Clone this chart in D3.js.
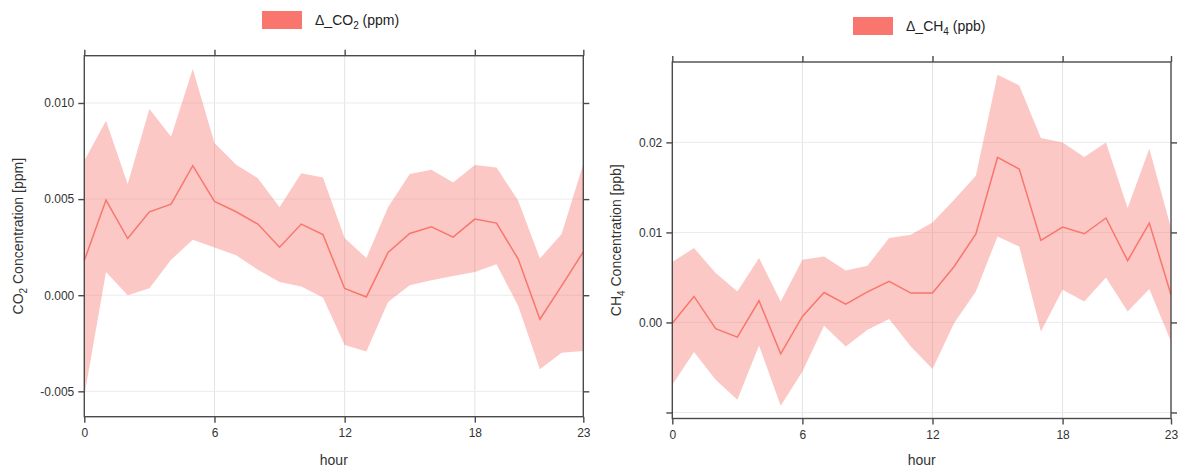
<!DOCTYPE html>
<html>
<head>
<meta charset="utf-8">
<script src="https://cdn.jsdelivr.net/npm/d3@7"></script>
<style>
  html, body { margin: 0; padding: 0; background: #fff; }
  svg { display: block; font-family: "Liberation Sans", Arial, sans-serif; }
</style>
</head>
<body>
<svg id="chart" width="1181" height="469"></svg>
<script>
// Hour of day, 0..23
const hours = d3.range(0, 24);

// CO2 difference (ppm): mean with lower / upper confidence bounds
const co2Mean  = [0.0018, 0.00495, 0.00295, 0.00434, 0.00474, 0.00674, 0.00488, 0.00434, 0.0037, 0.0025, 0.0037, 0.00316,
                  0.00035, -0.00009, 0.00222, 0.00321, 0.00356, 0.00302, 0.00396, 0.00375, 0.00188, -0.00125, 0.00049, 0.00226];
const co2Upper = [0.0070, 0.00908, 0.00578, 0.00969, 0.00825, 0.01177, 0.00792, 0.00679, 0.00609, 0.00457, 0.00634, 0.00613,
                  0.00297, 0.00193, 0.00457, 0.0063, 0.00653, 0.00587, 0.00677, 0.00665, 0.00491, 0.00191, 0.00318, 0.00682];
const co2Lower = [-0.00524, 0.00121, 0.0, 0.00036, 0.00184, 0.00288, 0.00248, 0.00208, 0.00132, 0.00069, 0.00045, -0.00012,
                  -0.00259, -0.00293, -0.00035, 0.00052, 0.00078, 0.001, 0.00121, 0.00161, -0.00056, -0.00385, -0.00299, -0.0029];

// CH4 difference (ppb): mean with lower / upper confidence bounds
const ch4Mean  = [-0.0001, 0.00289, -0.0007, -0.00163, 0.00241, -0.00348, 0.00067, 0.00333, 0.00204, 0.0034, 0.00456, 0.00326,
                  0.00326, 0.00622, 0.00982, 0.01833, 0.01704, 0.00911, 0.0106, 0.00985, 0.0116, 0.00686, 0.01104, 0.00307];
const ch4Upper = [0.00671, 0.00826, 0.00548, 0.00344, 0.00715, 0.00233, 0.00696, 0.00733, 0.00578, 0.0063, 0.00937, 0.00974,
                  0.01111, 0.01363, 0.0163, 0.02752, 0.02633, 0.02048, 0.02, 0.01837, 0.02, 0.01271, 0.0193, 0.01049];
const ch4Lower = [-0.00692, -0.00329, -0.00637, -0.00859, -0.00256, -0.00926, -0.00544, -0.00037, -0.00267, -0.00081, 0.00038, -0.00267,
                  -0.00518, -0.00007, 0.00344, 0.00956, 0.00844, -0.001, 0.00363, 0.00233, 0.005, 0.00122, 0.00371, -0.00211];

// Axis ticks
const hourTicks   = [0, 6, 12, 18, 23];
const co2Ticks    = [-0.005, 0, 0.005, 0.010];
const co2TickText = ["-0.005", "0.000", "0.005", "0.010"];
const ch4Ticks    = [-0.01, 0, 0.01, 0.02];
const ch4TickText = ["", "0.00", "0.01", "0.02"];

const seriesColor = "#f8766d";
const frameColor = "#4a4a4a";
const svg = d3.select("#chart");

function panel(cfg) {
  const x = d3.scaleLinear().domain([0, 23]).range([cfg.left, cfg.right]);
  const y = d3.scaleLinear().domain(cfg.yDomain).range([cfg.bottom, cfg.top]);
  const g = svg.append("g");

  // grid
  g.append("g").selectAll("line").data(hourTicks.filter(h => h > 0 && h < 23)).join("line")
    .attr("x1", d => x(d)).attr("x2", d => x(d))
    .attr("y1", cfg.top).attr("y2", cfg.bottom)
    .attr("stroke", "#e3e3e3").attr("stroke-width", 1);
  g.append("g").selectAll("line").data(cfg.yTicks).join("line")
    .attr("x1", cfg.left).attr("x2", cfg.right)
    .attr("y1", d => y(d)).attr("y2", d => y(d))
    .attr("stroke", "#ebebeb").attr("stroke-width", 1);

  const rows = hours.map((h, i) => ({ h, m: cfg.mean[i], lo: cfg.lower[i], hi: cfg.upper[i] }));

  // confidence ribbon
  g.append("path").datum(rows)
    .attr("d", d3.area().x(d => x(d.h)).y0(d => y(d.lo)).y1(d => y(d.hi)))
    .attr("fill", seriesColor).attr("fill-opacity", 0.4);

  // mean line
  g.append("path").datum(rows)
    .attr("d", d3.line().x(d => x(d.h)).y(d => y(d.m)))
    .attr("fill", "none").attr("stroke", seriesColor).attr("stroke-width", 1.5);

  // axes on all four sides
  const tickLen = 6;
  const styleAxis = sel => {
    sel.select(".domain").remove();
    sel.selectAll(".tick line").attr("stroke", frameColor).attr("stroke-width", 1.4);
    sel.selectAll(".tick text").attr("fill", "#333").style("font-size", "12px")
      .style("font-family", "'Liberation Sans', Arial, sans-serif");
  };
  g.append("g").attr("transform", `translate(0,${cfg.bottom})`)
    .call(d3.axisBottom(x).tickValues(hourTicks).tickFormat(d3.format("d")).tickSize(tickLen).tickPadding(6))
    .call(styleAxis);
  g.append("g").attr("transform", `translate(0,${cfg.top})`)
    .call(d3.axisTop(x).tickValues(hourTicks).tickFormat("").tickSize(tickLen))
    .call(styleAxis);
  g.append("g").attr("transform", `translate(${cfg.left},0)`)
    .call(d3.axisLeft(y).tickValues(cfg.yTicks).tickFormat((d, i) => cfg.yTickText[i]).tickSize(tickLen).tickPadding(4))
    .call(styleAxis);
  g.append("g").attr("transform", `translate(${cfg.right},0)`)
    .call(d3.axisRight(y).tickValues(cfg.yTicks).tickFormat("").tickSize(tickLen))
    .call(styleAxis);

  // frame
  g.append("rect")
    .attr("x", cfg.left).attr("y", cfg.top)
    .attr("width", cfg.right - cfg.left).attr("height", cfg.bottom - cfg.top)
    .attr("fill", "none").attr("stroke", frameColor).attr("stroke-width", 1.4);

  // x title
  g.append("text")
    .attr("x", (cfg.left + cfg.right) / 2).attr("y", 465)
    .attr("text-anchor", "middle").attr("fill", "#333").style("font-size", "14px")
    .text("hour");

  // y title with subscript
  const yt = g.append("text")
    .attr("transform", `translate(${cfg.yTitleX},${(cfg.top + cfg.bottom) / 2}) rotate(-90)`)
    .attr("text-anchor", "middle").attr("fill", "#333").style("font-size", "14px");
  yt.append("tspan").text(cfg.gas[0]);
  yt.append("tspan").attr("dy", 4).style("font-size", "10px").text(cfg.gas[1]);
  yt.append("tspan").attr("dy", -4).text(" Concentration " + cfg.unit);

  // legend
  g.append("rect")
    .attr("x", cfg.legX).attr("y", cfg.legY)
    .attr("width", 40).attr("height", 18)
    .attr("fill", seriesColor);
  const lt = g.append("text")
    .attr("x", cfg.legX + 53).attr("y", cfg.legY + 14)
    .attr("fill", "#222").style("font-size", "14px");
  lt.append("tspan").text("\u0394_" + cfg.gas[0]);
  lt.append("tspan").attr("dy", 4).style("font-size", "10px").text(cfg.gas[1]);
  lt.append("tspan").attr("dy", -4).text(" " + cfg.unit.replace("[", "(").replace("]", ")"));
}

panel({
  left: 84.3, right: 583.3, top: 55.7, bottom: 416.7,
  yDomain: [-0.00632, 0.01246],
  yTicks: co2Ticks, yTickText: co2TickText,
  mean: co2Mean, lower: co2Lower, upper: co2Upper,
  gas: ["CO", "2"], unit: "[ppm]",
  yTitleX: 23, legX: 262, legY: 11
});

panel({
  left: 672.3, right: 1171, top: 62, bottom: 418.5,
  yDomain: [-0.01067, 0.02893],
  yTicks: ch4Ticks, yTickText: ch4TickText,
  mean: ch4Mean, lower: ch4Lower, upper: ch4Upper,
  gas: ["CH", "4"], unit: "[ppb]",
  yTitleX: 621, legX: 853, legY: 17
});
</script>
</body>
</html>
